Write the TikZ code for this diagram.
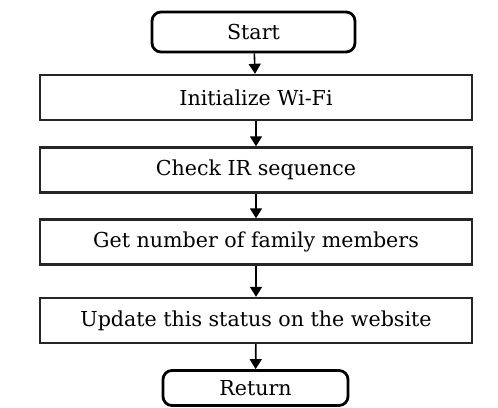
\documentclass[tikz,border=0pt]{standalone}
\usepackage{fontspec}
\setmainfont{DejaVu Serif}
\usetikzlibrary{arrows.meta}
\begin{document}
\begin{tikzpicture}[x=1pt,y=-1pt,
  boxfont/.style={font=\fontsize{20.6}{24}\selectfont},
  procbox/.style={draw=black!85, line width=2.4pt, minimum width=432pt, minimum height=45pt, inner sep=0pt, boxfont},
  termbox/.style={draw=black, line width=2.8pt, rounded corners=9pt, inner sep=0pt, boxfont},
  flow/.style={line width=1.6pt, -{Triangle[length=10pt,width=12pt]}}]
\useasboundingbox (0,0) rectangle (498,407);
\node[termbox, minimum width=203pt, minimum height=40pt] (start) at (253.5,32) {Start};
\node[procbox] (wifi) at (256,97.5) {Initialize Wi-Fi};
\node[procbox] (ir) at (256,170) {Check IR sequence};
\node[procbox] (count) at (256,242) {Get number of family members};
\node[procbox] (web) at (256,320.5) {Update this status on the website};
\node[termbox, minimum width=185pt, minimum height=35pt] (ret) at (255.5,388) {Return};
\draw[flow] (start) -- (wifi);
\draw[flow] (wifi) -- (ir);
\draw[flow] (ir) -- (count);
\draw[flow] (count) -- (web);
\draw[flow] (web) -- (ret);
\end{tikzpicture}
\end{document}
